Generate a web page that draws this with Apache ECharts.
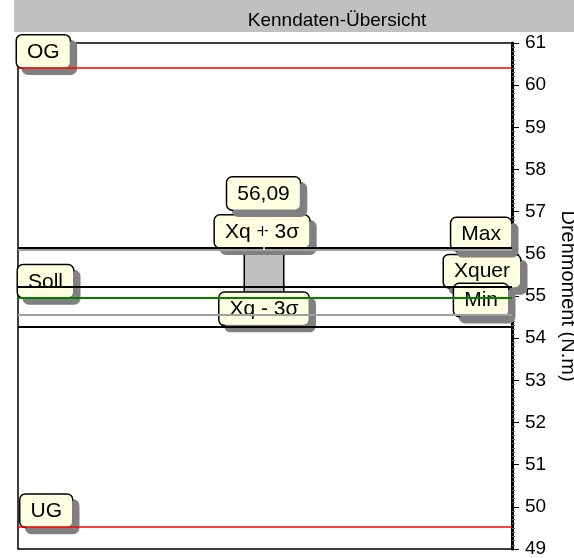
<!DOCTYPE html>
<html>
<head>
<meta charset="utf-8">
<script src="https://cdn.jsdelivr.net/npm/echarts@6/dist/echarts.min.js"></script>
<style>
html, body { margin: 0; padding: 0; background: #fff; }
#chart { width: 574px; height: 558px; }
</style>
</head>
<body>
<div id="chart"></div>
<script>
// Kennwerte, Drehmoment in N.m
const yMin = 49
const yMax = 61
const yStep = 1

const ogValue = 60.42
const ugValue = 49.53
const sollValue = 54.97
const statNames = ['Xq + 3σ', 'Max', 'Xquer', 'Min', 'Xq - 3σ']
const statValues = [56.15, 56.09, 55.21, 54.55, 54.27]
const boxRange = [55.07, 56.09]   // grauer Balken (unten, oben)
const whiskerTop = 56.75

const FONT = '"Liberation Sans", Arial, sans-serif'
const chart = echarts.init(document.getElementById('chart'))

const fmt = v => v.toFixed(2).replace('.', ',')

const labelBox = {
  show: true,
  position: 'inside',
  fontFamily: FONT,
  fontSize: 21,
  lineHeight: 23,
  color: '#000',
  backgroundColor: '#ffffe1',
  borderColor: '#000',
  borderWidth: 1.5,
  borderRadius: 5,
  padding: [5, 10, 4, 10],
  shadowColor: '#808080',
  shadowOffsetX: 6,
  shadowOffsetY: 6,
  shadowBlur: 0
}

// Schild an Position x (0..100) und Wert y
function tag (text, x, y, align, dx, dy) {
  return {
    value: [x, y],
    label: Object.assign({}, labelBox, {
      formatter: text,
      align: align,
      verticalAlign: 'bottom',
      offset: [dx || 0, dy || 0]
    })
  }
}

const black = { color: '#000', width: 2, type: 'solid' }
const gray = { color: '#a0a0a0', width: 2, type: 'solid' }

let option = {
  animation: false,
  graphic: [
    { type: 'rect', left: 14, top: 0, z: 0, shape: { width: 560, height: 32 }, style: { fill: '#c0c0c0' } },
    {
      type: 'text', z: 1,
      style: {
        text: 'Kenndaten-Übersicht', x: 337, y: 21,
        font: '19px "Liberation Sans", Arial, sans-serif', fill: '#000',
        align: 'center', verticalAlign: 'middle', textAlign: 'center', textVerticalAlign: 'middle'
      }
    }
  ],
  grid: {
    left: 18, right: 62, top: 43, bottom: 9,
    outerBoundsMode: 'none', containLabel: false,
    show: true, borderColor: '#000', borderWidth: 1.5, backgroundColor: '#fff'
  },
  xAxis: { type: 'value', min: 0, max: 100, show: false },
  yAxis: {
    type: 'value', position: 'right',
    min: yMin, max: yMax, interval: yStep,
    name: 'Drehmoment (N.m)', nameLocation: 'middle', nameRotate: -90, nameGap: 44,
    nameTextStyle: { fontFamily: FONT, fontSize: 20, color: '#000' },
    axisLine: { show: true, onZero: false, lineStyle: { color: '#000', width: 3 } },
    axisTick: { show: true, length: 7, lineStyle: { color: '#000', width: 1 } },
    minorTick: { show: true, splitNumber: 10, length: 3, lineStyle: { color: '#666', width: 1 } },
    axisLabel: { fontFamily: FONT, fontSize: 19, color: '#000', margin: 13 },
    splitLine: { show: false }
  },
  series: [
    {
      // grauer Balken
      type: 'custom', z: 1, silent: true,
      data: [[45.8, 53.8, boxRange[0], boxRange[1]]],
      renderItem: (params, api) => {
        const p1 = api.coord([api.value(0), api.value(3)])
        const p2 = api.coord([api.value(1), api.value(2)])
        return {
          type: 'rect',
          shape: { x: p1[0], y: p1[1], width: p2[0] - p1[0], height: p2[1] - p1[1] },
          style: { fill: '#c0c0c0', stroke: '#000', lineWidth: 1.5 }
        }
      }
    },
    {
      // Schilder unter den Linien
      type: 'scatter', z: 2, silent: true, symbolSize: 0,
      itemStyle: { opacity: 1 },
      data: [
        tag(statNames[2], 100, statValues[2], 'right', 8, 0),
        tag(statNames[3], 100, statValues[3], 'right', -4, 1),
        tag(statNames[4], 49.8, statValues[4], 'center', 0, -2)
      ]
    },
    {
      // Linien
      type: 'line', z: 3, silent: true, data: [],
      markLine: {
        silent: true, symbol: ['none', 'none'], label: { show: false },
        data: [
          { yAxis: ogValue, lineStyle: { color: '#ff0000', width: 1.5, type: 'solid' } },
          { yAxis: ugValue, lineStyle: { color: '#ff0000', width: 1.5, type: 'solid' } },
          { yAxis: statValues[1], lineStyle: gray },
          { yAxis: statValues[0], lineStyle: black },
          { yAxis: statValues[2], lineStyle: black },
          { yAxis: statValues[3], lineStyle: gray },
          { yAxis: statValues[4], lineStyle: black },
          { yAxis: sollValue, lineStyle: { color: '#008000', width: 2, type: 'solid' } }
        ]
      }
    },
    {
      // Schilder über den Linien
      type: 'scatter', z: 4, silent: true, symbolSize: 0,
      itemStyle: { opacity: 1 },
      data: [
        tag('OG', 0, ogValue, 'left', -1, 0),
        tag('UG', 0.5, ugValue, 'left', 0, 0),
        tag('Soll', 0, sollValue, 'left', 0, 0),
        tag(statNames[1], 100, statValues[1], 'right', -1, 0),
        tag(statNames[0], 49.4, statValues[0], 'center', 0, 0),
        tag(fmt(statValues[1]), 49.7, statValues[0], 'center', 0, -38)
      ]
    },
    {
      // weisse Linie
      type: 'custom', z: 5, silent: true,
      data: [[49.8, statValues[1], whiskerTop]],
      renderItem: (params, api) => {
        const a = api.coord([api.value(0), api.value(1)])
        const b = api.coord([api.value(0), api.value(2)])
        return {
          type: 'line',
          shape: { x1: a[0], y1: a[1], x2: b[0], y2: b[1] },
          style: { stroke: '#fff', lineWidth: 1.5 }
        }
      }
    }
  ]
}

chart.setOption(option)
</script>
</body>
</html>
